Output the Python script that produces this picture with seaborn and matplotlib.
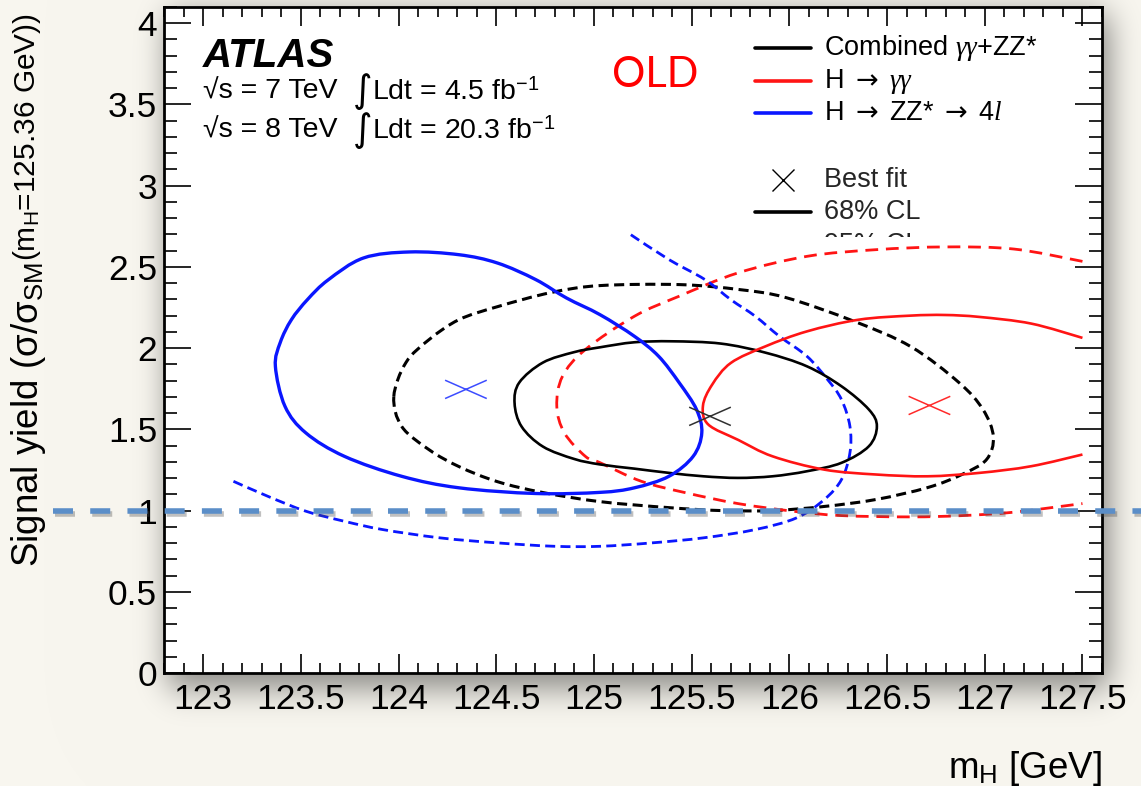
import math
import numpy as np
import matplotlib
matplotlib.use("Agg")
import matplotlib.pyplot as plt
import matplotlib.patheffects as pe
from matplotlib.path import Path
from matplotlib.patches import PathPatch
from matplotlib.lines import Line2D
from matplotlib.transforms import Bbox, blended_transform_factory
from matplotlib.ticker import MultipleLocator, FuncFormatter
import seaborn as sns

# ---- best-fit points (m_H, signal yield) ----
bestfit_mass = [125.594, 126.717, 124.345]
bestfit_mu = [1.580, 1.647, 1.746]
bestfit_color = ["#303030", "#ff2a2a", "#3c4cff"]

# ---- combined gamma-gamma + ZZ* contours ----
comb68_x = [124.594, 124.618, 124.739, 124.898, 125.031, 125.207, 125.399, 125.649,
            125.878, 126.090, 126.267, 126.407, 126.448, 126.407, 126.267, 126.090,
            125.914, 125.737, 125.560, 125.384, 125.207, 125.031, 124.898, 124.739,
            124.630, 124.594]
comb68_y = [1.660, 1.788, 1.911, 1.975, 2.005, 2.036, 2.042, 2.028,
            1.972, 1.888, 1.765, 1.622, 1.519, 1.396, 1.294, 1.242,
            1.211, 1.201, 1.211, 1.232, 1.258, 1.284, 1.318, 1.394,
            1.517, 1.660]
comb95_x = [123.976, 124.038, 124.156, 124.309, 124.506, 124.780, 125.031, 125.440,
            125.747, 125.983, 126.336, 126.622, 126.868, 126.991, 127.044, 127.009,
            126.883, 126.709, 126.443, 126.177, 125.914, 125.650, 125.384, 125.031,
            124.739, 124.506, 124.309, 124.156, 124.017, 123.976]
comb95_y = [1.702, 1.911, 2.052, 2.175, 2.255, 2.342, 2.385, 2.391,
            2.360, 2.311, 2.163, 2.009, 1.788, 1.622, 1.455, 1.314,
            1.222, 1.142, 1.068, 1.025, 1.000, 1.000, 1.018, 1.055,
            1.111, 1.178, 1.271, 1.375, 1.517, 1.702]

# ---- H -> gamma gamma contours ----
gg68_x = [127.500, 127.238, 126.973, 126.796, 126.620, 126.355, 126.090, 125.878,
          125.701, 125.605, 125.558, 125.585, 125.740, 125.914, 126.179,
          126.443, 126.708, 126.973, 127.238, 127.500]
gg68_y = [2.063, 2.151, 2.192, 2.204, 2.200, 2.175, 2.103, 2.011,
          1.909, 1.775, 1.645, 1.530, 1.434, 1.334, 1.252,
          1.222, 1.211, 1.232, 1.273, 1.345]
gg95_x = [127.500, 127.149, 126.796, 126.443, 126.090, 125.737, 125.435, 125.207,
          124.956, 124.839, 124.810, 124.849, 124.956, 125.031, 125.243, 125.472,
          125.737, 126.019, 126.267, 126.620, 126.885, 127.149, 127.500]
gg95_y = [2.534, 2.610, 2.623, 2.606, 2.565, 2.463, 2.319, 2.196,
          1.991, 1.826, 1.642, 1.478, 1.334, 1.295, 1.180, 1.109,
          1.043, 0.996, 0.969, 0.961, 0.969, 0.990, 1.043]

# ---- H -> ZZ* -> 4l contours ----
zz68_x = [123.535, 123.640, 123.821, 124.056, 124.310, 124.506, 124.702, 124.859,
          125.031, 125.207, 125.331, 125.437, 125.525, 125.552, 125.508, 125.384,
          125.207, 125.031, 124.702, 124.310, 124.016, 123.723, 123.526, 123.419,
          123.370, 123.395, 123.452, 123.535]
zz68_y = [2.300, 2.420, 2.555, 2.592, 2.575, 2.524, 2.422, 2.309,
          2.206, 2.073, 1.950, 1.786, 1.622, 1.478, 1.334, 1.211,
          1.140, 1.112, 1.105, 1.140, 1.211, 1.334, 1.478, 1.642,
          1.888, 2.035, 2.175, 2.300]
zz95_x = [125.189, 125.384, 125.568, 125.701, 125.826, 125.949, 126.090, 126.196,
          126.267, 126.310, 126.310, 126.267, 126.179, 126.037, 125.826, 125.560,
          125.296, 125.031, 124.800, 124.506, 124.212, 123.919, 123.723, 123.526,
          123.331, 123.135]
zz95_y = [2.698, 2.545, 2.422, 2.298, 2.196, 2.073, 1.950, 1.806,
          1.683, 1.519, 1.355, 1.191, 1.068, 0.955, 0.883, 0.832,
          0.801, 0.780, 0.780, 0.801, 0.832, 0.883, 0.934, 0.996,
          1.088, 1.191]

sm_yield = 1.0

legend_labels = [r"Combined $\gamma\gamma$+ZZ*", r"H $\mathsf{\rightarrow}$ $\gamma\gamma$",
                 r"H $\mathsf{\rightarrow}$ ZZ* $\mathsf{\rightarrow}$ 4$l$",
                 "Best fit", "68% CL", "95% CL"]

BLACK = "#000000"
RED = "#ff1414"
BLUE = "#0a16ff"

# ---------------------------------------------------------------------------
W, H = 1141, 786
sns.set_theme(style="ticks")
plt.rcParams["font.family"] = ["Liberation Sans", "DejaVu Sans"]
plt.rcParams["mathtext.fontset"] = "custom"
plt.rcParams["mathtext.rm"] = "Liberation Sans"
plt.rcParams["mathtext.it"] = "Liberation Serif:italic"
plt.rcParams["mathtext.bf"] = "Liberation Sans:bold"
plt.rcParams["mathtext.sf"] = "DejaVu Sans"
plt.rcParams["axes.unicode_minus"] = True

fig = plt.figure(figsize=(W / 100, H / 100), dpi=100)


def fx(px):
    return px / W


def fy(py):
    return 1.0 - py / H


# soft drop shadow behind the plotting frame on a cream page
AX_L, AX_R, AX_T, AX_B = 164, 1102, 7, 673
erf = np.vectorize(math.erf)


def band(v, lo, hi, s):
    r = s * math.sqrt(2.0)
    return 0.5 * (erf((v - lo) / r) - erf((v - hi) / r))


cols = np.arange(W) + 0.5
rows = np.arange(H) + 0.5
alpha = 0.62 * np.outer(band(rows, AX_T + 8, AX_B + 14, 17),
                        band(cols, AX_L + 4, AX_R + 7, 15))
page = np.array([248, 246, 239]) / 255.0
shade = np.array([60, 60, 58]) / 255.0
img = page * (1 - alpha[..., None]) + shade * alpha[..., None]
fig.figimage(img, xo=0, yo=0, origin="upper", zorder=-10)
fig.patch.set_facecolor("#f8f6ef")

ax = fig.add_axes([fx(AX_L), fy(AX_B), fx(AX_R) - fx(AX_L), fy(AX_T) - fy(AX_B)])
ax.set_facecolor("white")


def contour_path(xs, ys):
    """Smooth cubic path passing through every listed contour point."""
    pts = np.column_stack([xs, ys]).astype(float)
    closed = np.allclose(pts[0], pts[-1])
    if closed:
        core = pts[:-1]
        ext = np.vstack([core[-1], core, core[0], core[1]])
        nseg = len(core)
    else:
        core = pts
        ext = np.vstack([core[0], core, core[-1]])
        nseg = len(core) - 1
    verts = [ext[1]]
    codes = [Path.MOVETO]
    for i in range(1, nseg + 1):
        c1 = ext[i] + (ext[i + 1] - ext[i - 1]) / 6.0
        c2 = ext[i + 1] - (ext[i + 2] - ext[i]) / 6.0
        verts += [c1, c2, ext[i + 1]]
        codes += [Path.CURVE4] * 3
    return Path(np.array(verts), codes)


# confidence-level contours
contours = [
    (comb95_x, comb95_y, BLACK, 2.2, (0, (3.3, 1.8))),
    (gg95_x, gg95_y, RED, 2.0, (0, (4.6, 2.8))),
    (zz95_x, zz95_y, BLUE, 2.0, (0, (3.6, 1.9))),
    (comb68_x, comb68_y, BLACK, 1.9, "-"),
    (gg68_x, gg68_y, RED, 1.9, "-"),
    (zz68_x, zz68_y, BLUE, 2.4, "-"),
]
for cx, cy, col, lw, ls in contours:
    ax.add_patch(PathPatch(contour_path(cx, cy), fill=False, edgecolor=col,
                           lw=lw, linestyle=ls, capstyle="butt",
                           joinstyle="round", zorder=3))

# best-fit crosses (flattened x)
flat_x = Path([(-0.5, -0.22), (0.5, 0.22), (-0.5, 0.22), (0.5, -0.22)],
              [Path.MOVETO, Path.LINETO, Path.MOVETO, Path.LINETO])
for mx, my, col in zip(bestfit_mass, bestfit_mu, bestfit_color):
    sns.scatterplot(x=[mx], y=[my], marker=flat_x, s=30 ** 2, color=col,
                    facecolor="none", edgecolor=col, linewidth=1.1,
                    ax=ax, zorder=4, legend=False)

# SM expectation line running across the page
blend = blended_transform_factory(fig.transFigure, ax.transData)
sm_line = Line2D([fx(53), 1.0], [sm_yield, sm_yield], transform=blend,
                 color="#5b8ec8", lw=4.0, linestyle=(0, (3.6, 3.1)),
                 solid_capstyle="butt", dash_capstyle="butt", clip_on=False,
                 zorder=6,
                 path_effects=[pe.SimpleLineShadow(offset=(1.2, -2.5),
                                                   shadow_color="0.3", alpha=0.35),
                               pe.Normal()])
ax.add_line(sm_line)

# axes styling
ax.set_xlim(122.8, 127.6)
ax.set_ylim(0, 4.1)
ax.xaxis.set_major_locator(MultipleLocator(0.5))
ax.xaxis.set_minor_locator(MultipleLocator(0.1))
ax.yaxis.set_major_locator(MultipleLocator(0.5))
ax.yaxis.set_minor_locator(MultipleLocator(0.1))
fmt = FuncFormatter(lambda v, p: "%g" % round(v, 2))
ax.xaxis.set_major_formatter(fmt)
ax.yaxis.set_major_formatter(fmt)
ax.tick_params(which="both", direction="in", top=True, right=True,
               width=1.2, color="black", labelcolor="black")
ax.tick_params(axis="x", which="major", length=14, labelsize=25.5, pad=7)
ax.tick_params(axis="x", which="minor", length=7)
ax.tick_params(axis="y", which="major", length=19.5, labelsize=25.5, pad=5)
ax.tick_params(axis="y", which="minor", length=9.7)
for sp in ax.spines.values():
    sp.set_linewidth(2.0)
    sp.set_color("black")
ax.set_xlabel("")
ax.set_ylabel("")
ax.grid(False)

# axis titles
fig.text(fx(AX_R), fy(778), r"m$_{\mathrm{H}}$ [GeV]", ha="right", va="baseline",
         fontsize=26.5, color="black")
ylab_main = fig.text(fx(9), fy(567), r"Signal yield (σ/σ$_{\mathrm{SM}}$",
                     rotation=90, ha="left", va="bottom", fontsize=26.5,
                     color="black")
fig.canvas.draw()
main_top = ylab_main.get_window_extent().y1
fig.text(fx(11), (main_top + 1) / H, r"(m$_{\mathrm{H}}$=125.36 GeV))",
         rotation=90, ha="left", va="bottom", fontsize=21.5, color="black")

# experiment labels
fig.text(fx(203), fy(67), "ATLAS", fontsize=29, weight="bold", style="italic",
         va="baseline", color="black")
for base, energy, lumi in [(99, "7", "4.5"), (138, "8", "20.3")]:
    fig.text(fx(203), fy(base), "√s = %s TeV" % energy, fontsize=20.5,
             va="baseline", color="black")
    fig.text(fx(353), fy(base - 7), "∫", fontsize=27, va="center",
             color="black", family=["DejaVu Sans"])
    fig.text(fx(372), fy(base), r"Ldt = %s fb$^{-1}$" % lumi, fontsize=20.5,
             va="baseline", color="black")

fig.text(fx(612), fy(87), "OLD", fontsize=30, color="#ff0000", family=["Lato"],
         va="baseline")

# legend block
leg_rows = [(47.7, 55, BLACK), (81, 87.5, RED), (113.3, 120, BLUE)]
for (ly, base, col), lab in zip(leg_rows, legend_labels[:3]):
    fig.add_artist(Line2D([fx(755), fx(811)], [fy(ly), fy(ly)], color=col, lw=2.6))
    fig.text(fx(824), fy(base), lab, fontsize=19.5, va="baseline", color="black")
fig.add_artist(Line2D([fx(783)], [fy(180)], marker="x", markersize=16.5,
                      mew=1.0, color="black", linestyle="none"))
fig.text(fx(824), fy(187), legend_labels[3], fontsize=19.5, va="baseline")
fig.add_artist(Line2D([fx(755), fx(811)], [fy(212.3), fy(212.3)], color=BLACK, lw=2.6))
fig.text(fx(824), fy(219), legend_labels[4], fontsize=19.5, va="baseline")
cl95 = fig.text(fx(824), fy(251.5), legend_labels[5], fontsize=19.5, va="baseline")
cl95.set_clip_box(Bbox.from_extents(0, H - 237, W, H))
cl95.set_clip_on(True)

fig.savefig("out.png", dpi=100)
